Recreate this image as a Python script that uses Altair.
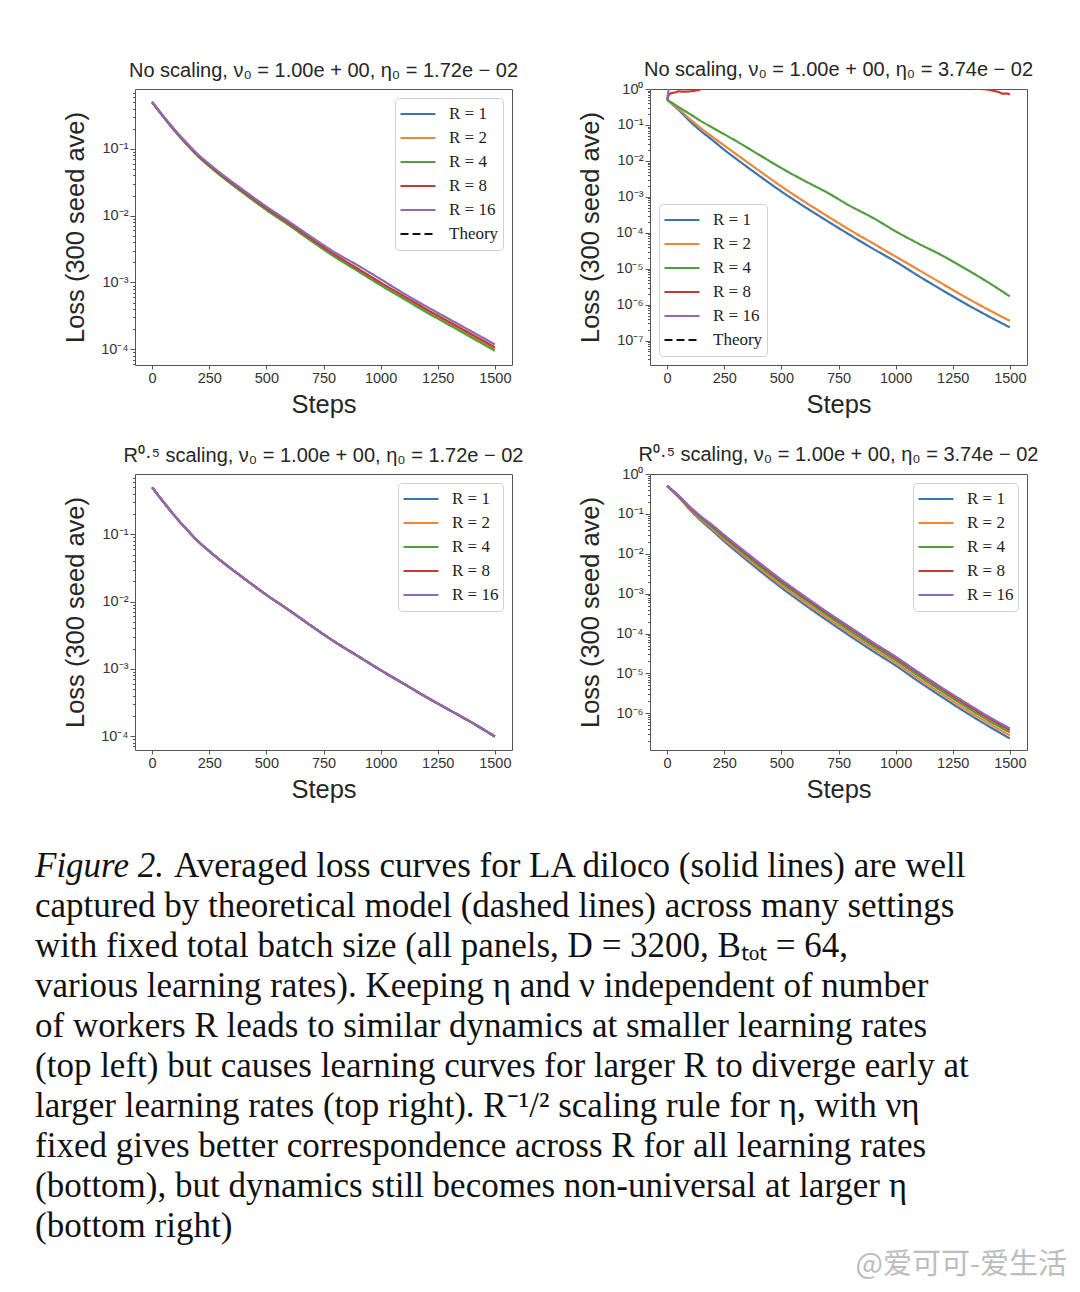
import altair as alt
import pandas as pd

# ---------------- data ----------------
STEPS = [0, 50, 100, 150, 200, 250, 300, 400, 500, 600, 700, 800, 900, 1000,
         1100, 1200, 1300, 1400, 1500]
R_LABELS = ["R = 1", "R = 2", "R = 4", "R = 8", "R = 16"]
R_COLORS = ["#3b75af", "#ef8636", "#519e3e", "#c53a32", "#8d69b8"]
THEORY = "Theory"
THEORY_COLOR = "#111111"

# top left: no scaling, eta0 = 1.72e-02
TL_R1 = [0.50, 0.302, 0.186, 0.120, 0.0794, 0.0562, 0.0407, 0.0224, 0.0126, 0.00741, 0.00427,
         0.00251, 0.00155, 0.000955, 0.000603, 0.000380, 0.000245, 0.000158, 0.000102]
TL_R2 = [0.50, 0.301, 0.185, 0.119, 0.0788, 0.0557, 0.0403, 0.0221, 0.0124, 0.00730, 0.00420,
         0.00247, 0.00152, 0.000938, 0.000591, 0.000372, 0.000240, 0.000154, 0.0000995]
TL_R4 = [0.50, 0.300, 0.184, 0.118, 0.0780, 0.0550, 0.0397, 0.0217, 0.0122, 0.00715, 0.00410,
         0.00240, 0.00148, 0.000908, 0.000571, 0.000359, 0.000231, 0.000148, 0.0000950]
TL_R8 = [0.50, 0.304, 0.188, 0.122, 0.0806, 0.0572, 0.0416, 0.0230, 0.0130, 0.00765, 0.00442,
         0.00260, 0.00161, 0.000995, 0.000630, 0.000398, 0.000257, 0.000166, 0.000107]
TL_R16 = [0.51, 0.308, 0.192, 0.125, 0.0835, 0.0595, 0.0433, 0.0241, 0.0137, 0.00810, 0.00472,
          0.00282, 0.00180, 0.00112, 0.000690, 0.000437, 0.000283, 0.000183, 0.000118]

# top right: no scaling, eta0 = 3.74e-02
TR_R1 = [0.501, 0.263, 0.126, 0.0661, 0.0372, 0.0204, 0.0117, 0.00398, 0.00141, 0.000537, 0.000214,
         8.71e-5, 3.63e-5, 1.58e-5, 6.31e-6, 2.63e-6, 1.12e-6, 5.01e-7, 2.34e-7]
TR_R2 = [0.501, 0.282, 0.145, 0.0794, 0.0457, 0.0269, 0.0158, 0.00550, 0.00195, 0.000741, 0.000295,
         0.000120, 5.13e-5, 2.19e-5, 9.33e-6, 3.98e-6, 1.70e-6, 7.59e-7, 3.55e-7]
TR_R4 = [0.501, 0.316, 0.200, 0.126, 0.0832, 0.0550, 0.0363, 0.0151, 0.00631, 0.00282, 0.00132,
         0.000562, 0.000262, 0.000110, 5.01e-5, 2.40e-5, 1.05e-5, 4.37e-6, 1.70e-6]
# R = 8 diverges: visible only before step ~155 and after step ~1340 (above 1 in between)
TR_R8_EARLY_STEPS = [0, 8, 20, 35, 50, 75, 100, 122, 144, 152, 158]
TR_R8_EARLY = [0.50, 0.68, 0.77, 0.80, 0.86, 0.84, 0.86, 0.90, 0.97, 1.02, 1.2]
TR_R8_LATE_STEPS = [1336, 1344, 1395, 1410, 1439, 1454, 1468, 1485, 1500]
TR_R8_LATE = [1.2, 1.02, 0.98, 0.95, 0.86, 0.81, 0.74, 0.75, 0.70]
# R = 16 leaves the plotted range right after the start
TR_R16_STEPS = [0, 7, 9]
TR_R16 = [0.50, 1.0, 1.2]

# bottom left: R^0.5 scaling, eta0 = 1.72e-02 (all R overlap)
BL_ALL = [0.50, 0.302, 0.186, 0.120, 0.0794, 0.0562, 0.0407, 0.0224, 0.0126, 0.00741, 0.00427,
          0.00251, 0.00155, 0.000955, 0.000603, 0.000380, 0.000245, 0.000158, 0.0000985]

# bottom right: R^0.5 scaling, eta0 = 3.74e-02 (R = 1 identical to top right)
BR_R2 = [0.501, 0.270, 0.133, 0.0713, 0.0409, 0.0228, 0.0132, 0.00454, 0.00162, 0.000621, 0.000247,
         0.000101, 4.23e-5, 1.85e-5, 7.41e-6, 3.09e-6, 1.32e-6, 5.92e-7, 2.79e-7]
BR_R4 = [0.501, 0.278, 0.141, 0.0769, 0.0451, 0.0255, 0.0148, 0.00513, 0.00186, 0.000724, 0.000288,
         0.000117, 4.90e-5, 2.14e-5, 8.71e-6, 3.63e-6, 1.55e-6, 6.92e-7, 3.31e-7]
BR_R8 = [0.501, 0.284, 0.147, 0.0820, 0.0490, 0.0279, 0.0164, 0.00575, 0.00209, 0.000813, 0.000324,
         0.000135, 5.62e-5, 2.45e-5, 1.00e-5, 4.17e-6, 1.78e-6, 7.94e-7, 3.80e-7]
BR_R16 = [0.501, 0.288, 0.151, 0.0851, 0.0513, 0.0295, 0.0174, 0.00617, 0.00224, 0.000871, 0.000347,
          0.000145, 6.03e-5, 2.63e-5, 1.07e-5, 4.47e-6, 1.95e-6, 8.71e-7, 4.17e-7]

X_TICKS = [0, 250, 500, 750, 1000, 1250, 1500]
TITLES = [
    "No scaling, ν₀ = 1.00e + 00, η₀ = 1.72e − 02",
    "No scaling, ν₀ = 1.00e + 00, η₀ = 3.74e − 02",
    "R⁰·⁵ scaling, ν₀ = 1.00e + 00, η₀ = 1.72e − 02",
    "R⁰·⁵ scaling, ν₀ = 1.00e + 00, η₀ = 3.74e − 02",
]

CAPTION_HEAD = "Figure 2."
CAPTION_LINES = [
    "Averaged loss curves for LA diloco (solid lines) are well",
    "captured by theoretical model (dashed lines) across many settings",
    "with fixed total batch size (all panels, D = 3200, Bₜₒₜ = 64,",
    "various learning rates). Keeping η and ν independent of number",
    "of workers R leads to similar dynamics at smaller learning rates",
    "(top left) but causes learning curves for larger R to diverge early at",
    "larger learning rates (top right). R⁻¹/² scaling rule for η, with νη",
    "fixed gives better correspondence across R for all learning rates",
    "(bottom), but dynamics still becomes non-universal at larger η",
    "(bottom right)",
]
WATERMARK = "@爱可可-爱生活"


def make_df(series_list):
    rows = []
    for label, seg, steps, vals in series_list:
        for s, v in zip(steps, vals):
            rows.append({"step": s, "loss": v, "series": label, "seg": seg})
    return pd.DataFrame(rows)


def plain(pairs):
    return [(lab, lab, st, vals) for lab, st, vals in pairs]


IS_MAJOR = "abs(log(datum.value)/LN10 - round(log(datum.value)/LN10)) < 0.001"
LABEL_EXPR = (IS_MAJOR + " ? ['10⁰','10⁻¹','10⁻²','10⁻³','10⁻⁴','10⁻⁵','10⁻⁶','10⁻⁷','10⁻⁸','10⁻⁹']"
              "[abs(round(log(datum.value)/LN10))] : ''")


def panel(df, title, ydom, orient, theory, title_offset):
    dom = R_LABELS + ([THEORY] if theory else [])
    rng = R_COLORS + ([THEORY_COLOR] if theory else [])
    dash = [[1, 0]] * 5 + ([[8, 4]] if theory else [])
    lo, hi = ydom
    ticks = []
    for e in range(-9, 1):
        for m in range(1, 10):
            v = m * 10.0 ** e
            if lo <= v <= hi * 1.0001:
                ticks.append(v)
    legend = alt.Legend(
        orient=orient, title=None, offset=9, fillColor="white", strokeColor="#d0d0d0",
        cornerRadius=4, padding=4, symbolType="stroke", symbolStrokeWidth=2.2,
        symbolSize=1225, clipHeight=24, labelFont="Liberation Serif", labelFontSize=17,
        labelColor="#222222", rowPadding=0, labelOffset=12,
    )
    return alt.Chart(df).mark_line(strokeWidth=2.2, clip=True, interpolate="monotone").encode(
        x=alt.X("step:Q", scale=alt.Scale(domain=[-75, 1575], nice=False, zero=False),
                axis=alt.Axis(values=X_TICKS, format="d", title="Steps", tickSize=4, labelPadding=2,
                              titlePadding=8)),
        y=alt.Y("loss:Q", scale=alt.Scale(type="log", domain=[lo, hi], nice=False),
                axis=alt.Axis(values=ticks, labelExpr=LABEL_EXPR, labelOverlap=False,
                              title="Loss (300 seed ave)", titlePadding=12,
                              tickSize={"condition": {"test": IS_MAJOR, "value": 5}, "value": 2.5})),
        color=alt.Color("series:N", scale=alt.Scale(domain=dom, range=rng), legend=legend),
        strokeDash=alt.StrokeDash("series:N", scale=alt.Scale(domain=dom, range=dash), legend=legend),
        detail="seg:N",
    ).properties(width=377, height=276,
                 title=alt.TitleParams(text=title, offset=title_offset))


tl = panel(make_df(plain([(R_LABELS[0], STEPS, TL_R1), (R_LABELS[1], STEPS, TL_R2),
                          (R_LABELS[2], STEPS, TL_R4), (R_LABELS[3], STEPS, TL_R8),
                          (R_LABELS[4], STEPS, TL_R16)])),
           TITLES[0], (5.8e-5, 0.79), "top-right", True, 4)
tr = panel(make_df(plain([(R_LABELS[0], STEPS, TR_R1), (R_LABELS[1], STEPS, TR_R2),
                          (R_LABELS[2], STEPS, TR_R4)])
                   + [(R_LABELS[3], "R8a", TR_R8_EARLY_STEPS, TR_R8_EARLY),
                      (R_LABELS[3], "R8b", TR_R8_LATE_STEPS, TR_R8_LATE),
                      (R_LABELS[4], "R16", TR_R16_STEPS, TR_R16)]),
           TITLES[1], (2.1e-8, 1.0), "bottom-left", True, 1)
bl = panel(make_df(plain([(lab, STEPS, BL_ALL) for lab in R_LABELS])),
           TITLES[2], (6.2e-5, 0.79), "top-right", False, 4)
br = panel(make_df(plain([(R_LABELS[0], STEPS, TR_R1), (R_LABELS[1], STEPS, BR_R2),
                          (R_LABELS[2], STEPS, BR_R4), (R_LABELS[3], STEPS, BR_R8),
                          (R_LABELS[4], STEPS, BR_R16)])),
           TITLES[3], (1.2e-7, 1.0), "top-right", False, 1)

grid = alt.concat(tl, tr, bl, br, columns=2, spacing={"row": 25, "column": 54}).resolve_scale(
    color="independent", strokeDash="independent")

# ---------------- caption ----------------
cap_df = pd.DataFrame({"idx": list(range(len(CAPTION_LINES))), "text": CAPTION_LINES})
ysc = alt.Scale(domain=[-0.75, 10.0], range=[0, 430])
cap_font = dict(font="Liberation Serif", fontSize=35, color="#111111", align="left", baseline="alphabetic")

head = alt.Chart(pd.DataFrame({"idx": [0], "text": [CAPTION_HEAD]})).mark_text(
    fontStyle="italic", **cap_font).encode(
    x=alt.value(-100), y=alt.Y("idx:Q", scale=ysc, axis=None), text="text:N")
first = alt.Chart(cap_df[cap_df.idx == 0]).mark_text(**cap_font).encode(
    x=alt.value(39), y=alt.Y("idx:Q", scale=ysc, axis=None), text="text:N")
rest = alt.Chart(cap_df[cap_df.idx > 0]).mark_text(**cap_font).encode(
    x=alt.value(-100), y=alt.Y("idx:Q", scale=ysc, axis=None), text="text:N")
wm = alt.Chart(pd.DataFrame({"idx": [9.7], "text": [WATERMARK]})).mark_text(
    font="Noto Sans CJK SC", fontSize=29, color="#b5b5b5", align="right", baseline="middle",
    opacity=0.9).encode(
    x=alt.value(932), y=alt.Y("idx:Q", scale=ysc, axis=None), text="text:N")

caption = alt.layer(head, first, rest, wm).properties(
    width=860, height=430, view=alt.ViewBackground(stroke="transparent"))

chart = alt.vconcat(grid, caption, spacing=42).properties(
    padding={"left": 26, "top": 51, "right": 0, "bottom": 5}
).configure_view(stroke="#555555", strokeWidth=1).configure_axis(
    domain=False, grid=False, labelFont="Liberation Sans", labelFontSize=14.5, labelColor="#333333",
    titleFont="Liberation Sans", titleFontSize=25.5, titleFontWeight="normal", titleColor="#262626",
    tickColor="#555555",
).configure_title(
    font="Liberation Sans", fontSize=20, fontWeight="normal", color="#262626"
)

chart.save("out.html", embed_options={"renderer": "svg", "actions": False})
